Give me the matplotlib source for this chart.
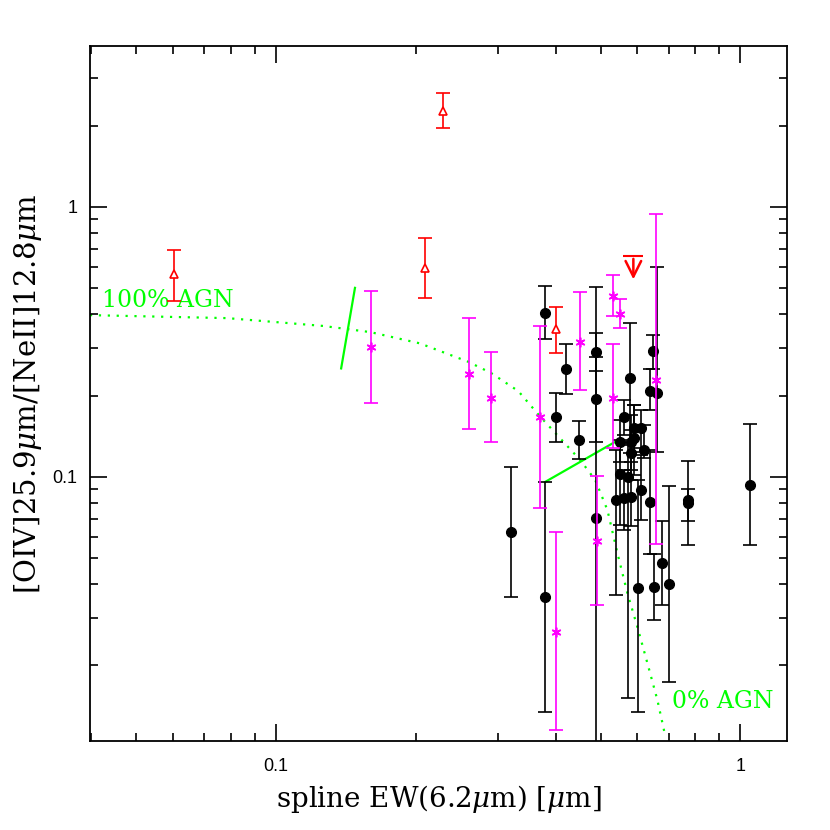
import numpy as np
import matplotlib
matplotlib.use("Agg")
import matplotlib.pyplot as plt
from matplotlib.ticker import LogLocator, NullFormatter, FixedLocator, FixedFormatter

# black filled circles: EW, ratio, lower bound, upper bound
blk_x = [0.3205, 0.380, 0.380, 0.4202, 0.3998, 0.4498, 0.4894, 0.4894, 0.4894, 0.5793,
         0.6483, 0.6397, 0.6614, 0.5604, 0.5888, 0.6109, 0.5494, 0.5813, 0.5910, 0.5813,
         0.6213, 0.5494, 0.5716, 0.6109, 0.5386, 0.5604, 0.5813, 0.6397, 0.7699, 0.7699,
         1.051, 0.6781, 0.6503, 0.7006, 0.6006]
blk_y = [0.0626, 0.405, 0.0359, 0.2505, 0.166, 0.1367, 0.2904, 0.1935, 0.0703, 0.2314,
         0.293, 0.2083, 0.2037, 0.166, 0.1511, 0.1511, 0.1348, 0.1348, 0.1387, 0.1221,
         0.1256, 0.1023, 0.0995, 0.0893, 0.082, 0.0832, 0.0839, 0.0808, 0.0797, 0.082,
         0.0932, 0.0478, 0.0391, 0.0400, 0.0386]
blk_lo = [0.0359, 0.3228, 0.0135, 0.2024, 0.1344, 0.1163, 0.2469, 0.1344, 0.001, 0.1224,
          0.25, 0.1767, 0.1235, 0.1427, 0.1235, 0.1277, 0.1133, 0.1059, 0.1015, 0.0972,
          0.1173, 0.0662, 0.0151, 0.0691, 0.0365, 0.0635, 0.066, 0.0519, 0.0558, 0.0687,
          0.0558, 0.0335, 0.0296, 0.0173, 0.0134]
blk_hi = [0.1089, 0.5085, 0.0953, 0.310, 0.2037, 0.1608, 0.3414, 0.2768, 0.503, 0.3699,
          0.335, 0.2505, 0.60, 0.1924, 0.1843, 0.1767, 0.1622, 0.1693, 0.1843, 0.1489,
          0.1553, 0.1367, 0.131, 0.1204, 0.1256, 0.1059, 0.1133, 0.1256, 0.1143, 0.090,
          0.1567, 0.0685, 0.0517, 0.0926, 0.0972]

# magenta stars
mag_x = [0.160, 0.2598, 0.2902, 0.3694, 0.4006, 0.4506, 0.4918, 0.5307, 0.5307, 0.5494, 0.659]
mag_y = [0.3014, 0.2395, 0.1962, 0.1668, 0.0267, 0.316, 0.0578, 0.1962, 0.467, 0.4005, 0.228]
mag_lo = [0.188, 0.1498, 0.1348, 0.0768, 0.0115, 0.2095, 0.0335, 0.1277, 0.3937, 0.3563, 0.0563]
mag_hi = [0.4873, 0.386, 0.2904, 0.3614, 0.0626, 0.4843, 0.1006, 0.310, 0.5585, 0.455, 0.939]

# red open triangles
red_x = [0.0601, 0.229, 0.2095, 0.4006]
red_y = [0.5618, 2.262, 0.593, 0.3514]
red_lo = [0.4477, 1.957, 0.459, 0.288]
red_hi = [0.691, 2.64, 0.766, 0.4262]

# red upper limit
lim_x = 0.588
lim_y = 0.657
lim_end = 0.526

# AGN mixing curve (dotted)
mix_x = [0.0397, 0.0784, 0.1263, 0.1595, 0.204, 0.2594, 0.2906, 0.3323, 0.3707, 0.4519,
         0.4869, 0.5170, 0.5432, 0.5708, 0.5998, 0.6304, 0.6624, 0.6893]
mix_y = [0.397, 0.387, 0.362, 0.3435, 0.312, 0.2666, 0.2421, 0.2077, 0.1668, 0.1153,
         0.0972, 0.0753, 0.0522, 0.0371, 0.0278, 0.0204, 0.0149, 0.0109]

# solid green segments
seg1_x = [0.138, 0.1478]
seg1_y = [0.252, 0.501]
seg2_x = [0.380, 0.5377]
seg2_y = [0.0958, 0.1348]

plt.rcParams['mathtext.fontset'] = 'dejavuserif'

fig = plt.figure(figsize=(8.3, 8.3), dpi=100)
ax = fig.add_axes([0.1084, 0.1072, 0.8398, 0.8373])


def err(y, lo, hi):
    y = np.array(y)
    return [y - np.array(lo), np.array(hi) - y]


ax.errorbar(blk_x, blk_y, yerr=err(blk_y, blk_lo, blk_hi), fmt='o', color='black',
            ms=7, capsize=5, elinewidth=1.2, capthick=1.2, zorder=2)
ax.errorbar(mag_x, mag_y, yerr=err(mag_y, mag_lo, mag_hi), fmt='none', ecolor='#ff00ff',
            capsize=5, elinewidth=1.2, capthick=1.2, zorder=3)
ax.plot(mag_x, mag_y, linestyle='none', marker=(6, 2, 0), color='#ff00ff', ms=7, mew=1.2, zorder=3)
ax.errorbar(red_x, red_y, yerr=err(red_y, red_lo, red_hi), fmt='^', color='red',
            mfc='white', mec='red', ms=6, mew=1.2, capsize=5, elinewidth=1.2, capthick=1.2, zorder=4)
ax.plot([lim_x], [lim_y], marker='_', color='red', ms=14, mew=1.5, zorder=4)
ax.annotate('', xy=(lim_x, lim_end), xytext=(lim_x, lim_y),
            arrowprops=dict(arrowstyle='->', color='red', lw=1.8, mutation_scale=28), zorder=4)

ax.plot(mix_x, mix_y, linestyle=(0, (1, 3)), color='#00ff00', lw=1.6, zorder=1)
ax.plot(seg1_x, seg1_y, color='#00ff00', lw=1.6, zorder=1)
ax.plot(seg2_x, seg2_y, color='#00ff00', lw=1.6, zorder=1)

ax.text(0.0168, 0.625, '100% AGN', transform=ax.transAxes, color='#00ff00',
        fontsize=17, family='DejaVu Serif')
ax.text(0.835, 0.047, '0% AGN', transform=ax.transAxes, color='#00ff00',
        fontsize=17, family='DejaVu Serif')

ax.set_xscale('log')
ax.set_yscale('log')
ax.set_xlim(0.0397, 1.26)
ax.set_ylim(0.0105, 3.94)

ax.xaxis.set_major_locator(FixedLocator([0.1, 1]))
ax.xaxis.set_major_formatter(FixedFormatter(['0.1', '1']))
ax.yaxis.set_major_locator(FixedLocator([0.1, 1]))
ax.yaxis.set_major_formatter(FixedFormatter(['0.1', '1']))
ax.xaxis.set_minor_locator(LogLocator(base=10, subs=np.arange(2, 10)))
ax.yaxis.set_minor_locator(LogLocator(base=10, subs=np.arange(2, 10)))
ax.xaxis.set_minor_formatter(NullFormatter())
ax.yaxis.set_minor_formatter(NullFormatter())
ax.tick_params(which='both', direction='in', top=True, right=True, width=1.2)
ax.tick_params(which='major', length=12, labelsize=13)
ax.tick_params(axis='x', which='major', pad=12)
ax.tick_params(axis='y', which='major', pad=9)
ax.tick_params(which='minor', length=6)
for lab in ax.get_xticklabels() + ax.get_yticklabels():
    lab.set_family('Liberation Sans')
for s in ax.spines.values():
    s.set_linewidth(1.3)

ax.set_xlabel(r'spline EW(6.2$\mu$m) [$\mu$m]', fontsize=20, family='DejaVu Serif', labelpad=6)
ax.set_ylabel(r'[OIV]25.9$\mu$m/[NeII]12.8$\mu$m', fontsize=21, family='DejaVu Serif', labelpad=6)

fig.savefig('out.png', dpi=100)
